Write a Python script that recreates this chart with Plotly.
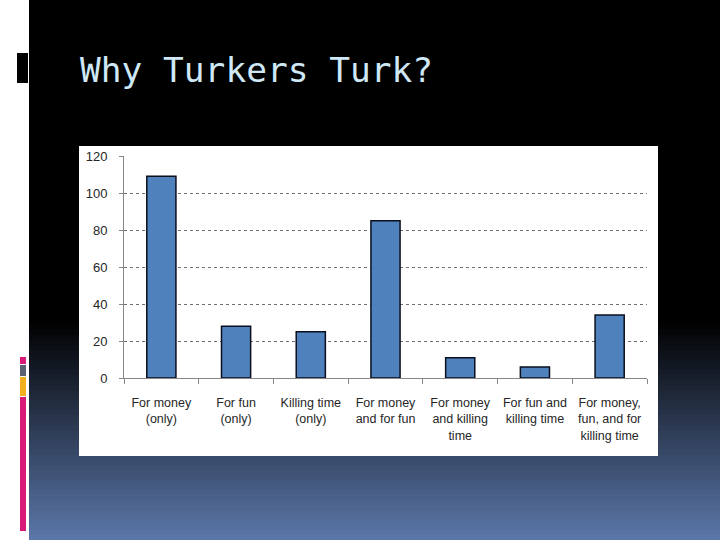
import plotly.graph_objects as go

categories = [
    "For money<br>(only)",
    "For fun<br>(only)",
    "Killing time<br>(only)",
    "For money<br>and for fun",
    "For money<br>and killing<br>time",
    "For fun and<br>killing time",
    "For money,<br>fun, and for<br>killing time",
]
values = [109, 28, 25, 85, 11, 6, 34]
y_ticks = [0, 20, 40, 60, 80, 100, 120]

W, H = 720, 540
L, R, T, B = 124, 647, 156, 378  # plot area in pixels


def px(x):
    return (x - L) / (R - L)


def py(y):
    return (B - y) / (B - T)


shapes = []
# gradient background strips (black -> slate blue)
top_g, bot_g = 320, 540
n = 44
c0 = (0, 0, 0)
c1 = (92, 120, 170)
for i in range(n):
    y0 = top_g + (bot_g - top_g) * i / n
    y1 = top_g + (bot_g - top_g) * (i + 1) / n + 0.6
    t = (i + 0.5) / n
    c = tuple(int(c0[k] + (c1[k] - c0[k]) * t) for k in range(3))
    shapes.append(dict(type="rect", xref="paper", yref="paper", layer="below",
                       x0=px(0), x1=px(W), y0=py(y0), y1=py(min(y1, 540)),
                       fillcolor="rgb(%d,%d,%d)" % c, line=dict(width=0)))
# left white strip
shapes.append(dict(type="rect", xref="paper", yref="paper", layer="below",
                   x0=px(0), x1=px(29), y0=py(0), y1=py(540),
                   fillcolor="white", line=dict(width=0)))
# black marker at top-left
shapes.append(dict(type="rect", xref="paper", yref="paper", layer="below",
                   x0=px(17), x1=px(28), y0=py(53), y1=py(83),
                   fillcolor="black", line=dict(width=0)))
# colored side bar segments
for (a, b, col) in [(357, 364, "#d81b78"), (365, 376, "#5b6272"),
                    (377, 396, "#f2b01e"), (397, 531, "#d81b78")]:
    shapes.append(dict(type="rect", xref="paper", yref="paper", layer="below",
                       x0=px(20), x1=px(26), y0=py(a), y1=py(b),
                       fillcolor=col, line=dict(width=0)))
# white chart image area
shapes.append(dict(type="rect", xref="paper", yref="paper", layer="below",
                   x0=px(79), x1=px(658), y0=py(146), y1=py(456),
                   fillcolor="white", line=dict(width=0)))

fig = go.Figure(go.Bar(
    x=categories, y=values,
    marker=dict(color="#4f81bd", line=dict(color="#0a0f1e", width=1.5)),
    hoverinfo="skip",
))

fig.update_layout(
    width=W, height=H,
    margin=dict(l=L, r=W - R, t=T, b=H - B, pad=0),
    paper_bgcolor="black",
    plot_bgcolor="white",
    showlegend=False,
    bargap=0.61,
    shapes=shapes,
    title=dict(text="Why Turkers Turk?", x=80 / W, xanchor="left", xref="container",
               y=1 - 70 / H, yanchor="middle", yref="container",
               font=dict(family="DejaVu Sans Mono", size=34.5, color="#cfe8f7")),
    font=dict(family="Liberation Sans", size=12.5, color="#333333"),
)

fig.update_xaxes(
    type="category",
    tickangle=0,
    showline=True, linecolor="#868686", linewidth=1,
    ticks="outside", tickson="boundaries", ticklen=5, tickcolor="#868686",
    showgrid=False,
    tickfont=dict(family="Liberation Sans", size=12.5, color="#262626"),
    ticklabelstandoff=13,
    fixedrange=True,
)
fig.update_yaxes(
    range=[0, 120], tickvals=y_ticks, ticktext=[str(v) for v in y_ticks],
    showline=True, linecolor="#868686", linewidth=1,
    ticks="outside", ticklen=4, tickcolor="#868686",
    showgrid=True, gridcolor="#6e6e6e", griddash="dot", gridwidth=1,
    zeroline=False,
    tickfont=dict(family="Liberation Sans", size=13, color="#262626"),
    ticklabelstandoff=9,
    fixedrange=True,
)

fig.write_html("out.html", config={"displayModeBar": False},
               post_script="document.body.style.margin='0';document.body.style.padding='0';")
